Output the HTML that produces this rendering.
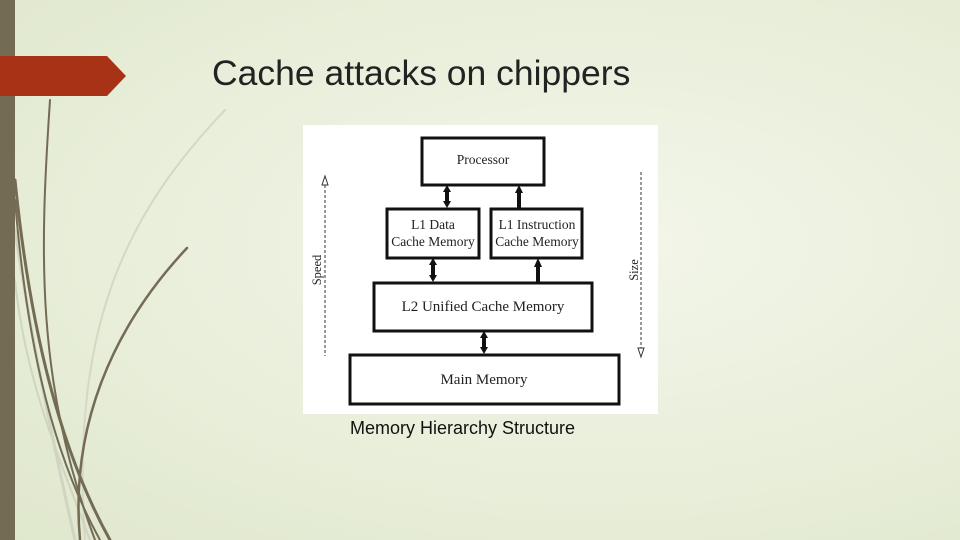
<!DOCTYPE html>
<html><head><meta charset="utf-8"><style>
body{margin:0}
#s{position:relative;width:960px;height:540px;overflow:hidden;background:radial-gradient(ellipse at 62% 45%,#f3f6ea 0%,#e8eed9 60%,#dfe7cc 100%);font-family:"Liberation Sans",sans-serif}
.t{position:absolute;left:212px;top:53px;font-size:35.5px;color:#222;white-space:nowrap}
.c{position:absolute;left:350px;top:418px;font-size:18px;color:#111;white-space:nowrap}
</style></head><body><div id="s">
<svg width="960" height="540" style="position:absolute;left:0;top:0">
<g fill="none" stroke-linecap="round">
<path d="M225,110 C130,210 70,320 85,540" stroke="#d4d8c6" stroke-width="2"/>
<path d="M15,230 C30,330 50,430 75,540" stroke="#cfd5c0" stroke-width="3"/>
<path d="M15,280 C25,380 60,460 90,540" stroke="#cfd5c0" stroke-width="2"/>
<path d="M50,100 C40,250 35,380 95,540" stroke="#746b55" stroke-width="2"/>
<path d="M15,180 C30,330 60,450 110,540" stroke="#746b55" stroke-width="3"/>
<path d="M187,248 C110,330 70,430 80,540" stroke="#746b55" stroke-width="2.5"/>
<path d="M15,200 C25,320 45,440 100,540" stroke="#746b55" stroke-width="2"/>
</g>
<rect x="0" y="0" width="15" height="540" fill="#746b55"/>
<polygon points="0,56 107,56 126,76 107,96 0,96" fill="#a83216"/>
<rect x="303" y="125" width="355" height="289" fill="#fff"/>
<g fill="none" stroke="#111" stroke-width="3">
<rect x="422" y="138" width="122" height="47"/>
<rect x="387" y="209" width="92" height="49"/>
<rect x="491" y="209" width="91" height="49"/>
<rect x="374" y="283" width="218" height="48"/>
<rect x="350" y="355" width="269" height="49"/>
</g>
<g stroke="#111" stroke-width="4">
<line x1="447" y1="190" x2="447" y2="204"/><line x1="519" y1="192" x2="519" y2="208"/>
<line x1="433" y1="263" x2="433" y2="278"/><line x1="538" y1="266" x2="538" y2="282"/>
<line x1="484" y1="336" x2="484" y2="350"/>
</g>
<g fill="#111">
<polygon points="447,185 443,192 451,192"/><polygon points="447,208 443,201 451,201"/>
<polygon points="519,185 515,193 523,193"/>
<polygon points="433,258 429,265 437,265"/><polygon points="433,282 429,275 437,275"/>
<polygon points="538,258 534,267 542,267"/>
<polygon points="484,331 480,338 488,338"/><polygon points="484,354 480,347 488,347"/>
</g>
<g stroke="#333" stroke-width="1" stroke-dasharray="3,2" fill="none">
<line x1="325" y1="185" x2="325" y2="356"/><line x1="641" y1="172" x2="641" y2="348"/>
</g>
<polygon points="325,176 322,185 328,185" fill="#fff" stroke="#333"/>
<polygon points="641,357 638,348 644,348" fill="#fff" stroke="#333"/>
<g font-family="Liberation Serif,serif" fill="#222" font-size="13.5" text-anchor="middle">
<text x="483" y="164">Processor</text>
<text x="433" y="229">L1 Data</text><text x="433" y="246">Cache Memory</text>
<text x="537" y="229">L1 Instruction</text><text x="537" y="246">Cache Memory</text>
<text x="483" y="311" font-size="15">L2 Unified Cache Memory</text>
<text x="484" y="384" font-size="15">Main Memory</text>
<text transform="translate(321,270) rotate(-90)" font-size="12.5">Speed</text>
<text transform="translate(638,270) rotate(-90)" font-size="12.5">Size</text>
</g>
</svg>
<div class="t">Cache attacks on chippers</div>
<div class="c">Memory Hierarchy Structure</div>
</div></body></html>
